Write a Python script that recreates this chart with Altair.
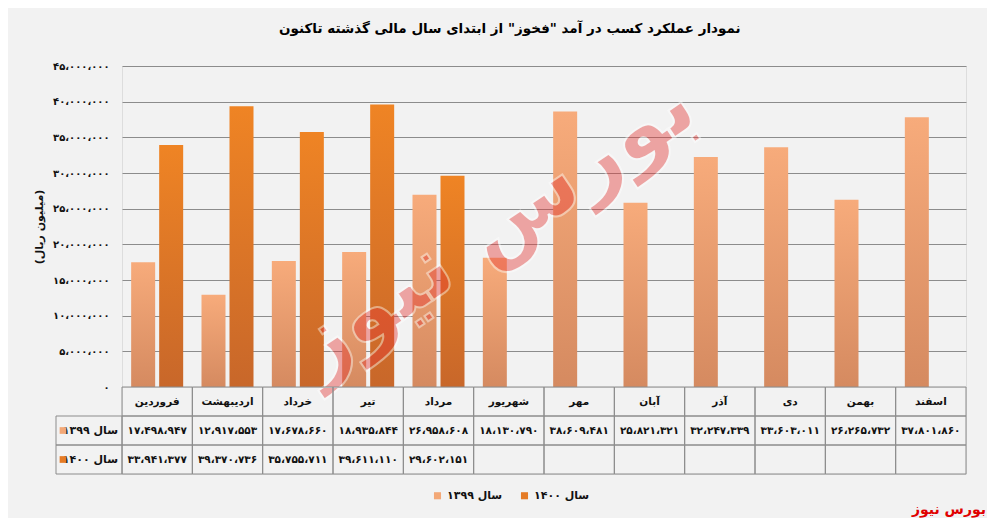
import altair as alt
import pandas as pd

months = ["فروردین", "اردیبهشت", "خرداد", "تیر", "مرداد", "شهریور",
          "مهر", "آبان", "آذر", "دی", "بهمن", "اسفند"]
v1399 = [17498947, 12917553, 17678660, 18935844, 26958608, 18130790,
         38609481, 25821321, 32247339, 33603011, 26265732, 37801860]
v1400 = [33941377, 39370736, 35755711, 39611110, 29602151]
series = ["سال ۱۳۹۹", "سال ۱۴۰۰"]
y_ticks = [0, 5000000, 10000000, 15000000, 20000000, 25000000,
           30000000, 35000000, 40000000, 45000000]
title_text = 'نمودار عملکرد کسب در آمد "فخوز" از ابتدای سال مالی گذشته تاکنون'
y_title = "(میلیون ریال)"
brand = "بورس نیوز"

FONT = "DejaVu Sans"
LIGHT = "#f3a877"
DARK = "#e57b25"
GRID = "#8c8c8c"

fa_map = str.maketrans("0123456789,", "۰۱۲۳۴۵۶۷۸۹،")


def fa(n):
    return f"{n:,}".translate(fa_map)


rows = []
for i, m in enumerate(months):
    rows.append({"month": m, "series": series[0], "value": v1399[i]})
    if i < len(v1400):
        rows.append({"month": m, "series": series[1], "value": v1400[i]})
bars_df = pd.DataFrame(rows)

cells = []
for i, m in enumerate(months):
    cells.append({"month": m, "row": "m", "txt": m})
    cells.append({"month": m, "row": "a", "txt": fa(v1399[i])})
    cells.append({"month": m, "row": "b", "txt": fa(v1400[i]) if i < len(v1400) else ""})
cells_df = pd.DataFrame(cells)
head_df = pd.DataFrame({"row": ["a", "b"], "label": series})

x_enc = alt.X("month:N", sort=months,
              scale=alt.Scale(domain=months, paddingInner=0, paddingOuter=0),
              axis=None)
xoff = alt.XOffset("series:N",
                   scale=alt.Scale(domain=series, paddingInner=0.143, paddingOuter=0.327))
y_enc = alt.Y("value:Q",
              scale=alt.Scale(domain=[0, 45000000], nice=False),
              axis=alt.Axis(values=y_ticks, format=",.0f", grid=True, gridColor=GRID,
                            gridWidth=1, ticks=False, domain=False,
                            labelFont=FONT, labelFontSize=10, labelFontWeight="bold",
                            labelColor="#111", labelPadding=13,
                            title=y_title, titleFont=FONT, titleFontSize=11,
                            titleFontWeight="bold", titleColor="#111", titlePadding=8))


def grad(top, bottom):
    return alt.Gradient(gradient="linear",
                        stops=[alt.GradientStop(color=top, offset=0),
                               alt.GradientStop(color=bottom, offset=1)],
                        x1=0, x2=0, y1=0, y2=1)


base = alt.Chart(bars_df)
b1 = base.transform_filter(alt.datum.series == series[0]).mark_bar(
    color=grad("#f7ab7b", "#d58a60")).encode(x=x_enc, xOffset=xoff, y=y_enc)
b2 = base.transform_filter(alt.datum.series == series[1]).mark_bar(
    color=grad("#ef8424", "#c8672a")).encode(x=x_enc, xOffset=xoff, y=y_enc)

wm = alt.Chart(pd.DataFrame({"t": [brand]})).mark_text(
    font=FONT, fontSize=88, fontWeight="bold", angle=326, color="#e53935",
    opacity=0.42, stroke="white", strokeWidth=2, align="center", baseline="middle"
).encode(text="t:N", x=alt.value(372), y=alt.value(162))

top = alt.layer(b1, b2, wm).properties(width=844, height=321)

tx = alt.X("month:N", sort=months,
           scale=alt.Scale(domain=months, paddingInner=0, paddingOuter=0), axis=None)
ty = alt.Y("row:N", scale=alt.Scale(domain=["m", "a", "b"], paddingInner=0, paddingOuter=0),
           axis=None)

tb = alt.Chart(cells_df)
cell_rect = tb.mark_rect(fillOpacity=0, stroke=GRID, strokeWidth=1).encode(x=tx, y=ty)
cell_txt = tb.mark_text(font=FONT, fontSize=10.5, fontWeight="bold", color="#111").encode(
    x=tx, y=ty, text="txt:N")

hb = alt.Chart(head_df)
head_rect = hb.mark_rect(fillOpacity=0, stroke=GRID, strokeWidth=1).encode(
    x=alt.value(-66), x2=alt.value(0), y=ty)
head_txt = hb.mark_text(font=FONT, fontSize=11, fontWeight="bold", color="#111",
                        align="right").encode(x=alt.value(-4), y=ty, text="label:N")
head_sq = hb.mark_point(shape="square", filled=True, size=45, opacity=1).encode(
    x=alt.value(-59), y=ty,
    color=alt.Color("label:N",
                    scale=alt.Scale(domain=series, range=[LIGHT, DARK]),
                    legend=alt.Legend(orient="none", legendX=310, legendY=424,
                                      direction="horizontal", title=None,
                                      symbolType="square", symbolSize=50,
                                      labelFont=FONT, labelFontSize=11,
                                      labelFontWeight="bold", labelColor="#111",
                                      columnPadding=16)))
brand_txt = alt.Chart(pd.DataFrame({"t": [brand]})).mark_text(
    font=FONT, fontSize=14, fontWeight="bold", color="#e00000", align="right",
    baseline="bottom").encode(text="t:N", x=alt.value(864), y=alt.value(130))

table = alt.layer(cell_rect, cell_txt, head_rect, head_txt, head_sq, brand_txt).properties(
    width=844, height=87)

chart = alt.vconcat(top, table, spacing=0, bounds="flush").properties(
    title=alt.TitleParams(title_text, font=FONT, fontSize=13.5, fontWeight="bold",
                          color="#000", anchor="middle", offset=25),
    padding={"left": 25, "top": 14, "right": 0, "bottom": 0},
    background="#f2f2f2",
).configure_view(strokeWidth=0).configure(
    locale={"number": {"decimal": ".", "thousands": "،", "grouping": [3],
                       "currency": ["", ""],
                       "numerals": ["۰", "۱", "۲", "۳", "۴", "۵", "۶", "۷", "۸", "۹"]}}
)

chart.save("out.html", embed_options={"renderer": "svg", "actions": False})
